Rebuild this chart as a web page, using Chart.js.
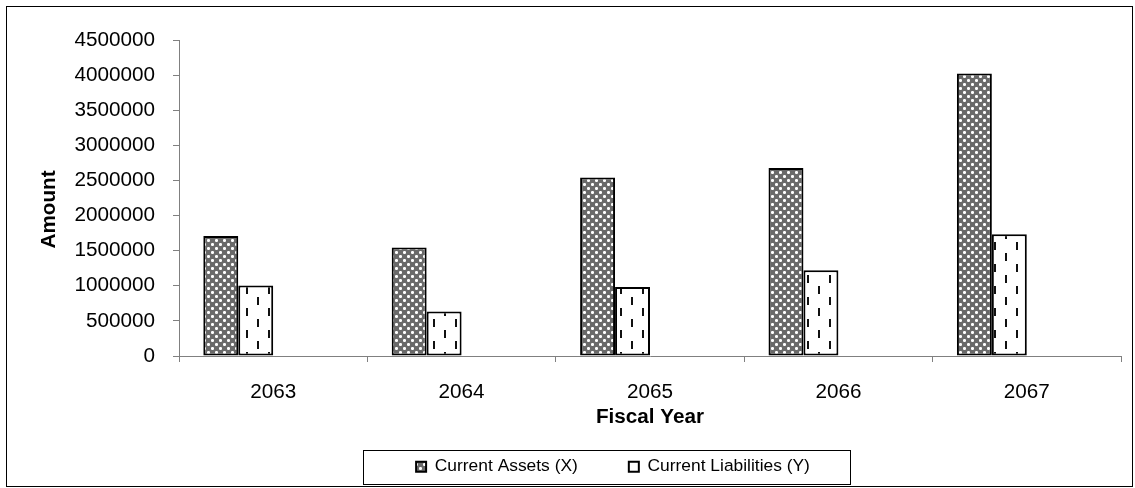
<!DOCTYPE html>
<html>
<head>
<meta charset="utf-8">
<title>Current Assets vs Current Liabilities</title>
<script src="https://cdn.jsdelivr.net/npm/chart.js@4.4.1/dist/chart.umd.min.js"></script>
<style>
  html, body { margin: 0; padding: 0; background: #fff; }
  #wrap { width: 1135px; height: 488px; }
</style>
</head>
<body>
<div id="wrap"><canvas id="chart"></canvas></div>
<script>
// values
const years = ['2063', '2064', '2065', '2066', '2067'];
const currentAssets = [1709000, 1544000, 2541000, 2678000, 4023000];
const currentLiabilities = [1003000, 632000, 983000, 1221000, 1734000];
// Excel drew this with two empty series, so the bars sit left of centre
const emptySeries = years.map(() => null);

const yMax = 4500000;
const yStep = 500000;

const FONT = "'Liberation Sans', Arial, sans-serif";
const AXIS_GREY = '#808080';

const canvas = document.getElementById('chart');

const makePattern = (w, h, draw) => {
  const tile = document.createElement('canvas');
  tile.width = w;
  tile.height = h;
  draw(tile.getContext('2d'));
  return canvas.getContext('2d').createPattern(tile, 'repeat');
};

// grey with white crosses
const crossPattern = makePattern(8, 8, ctx => {
  ctx.fillStyle = '#6a6a6a';
  ctx.fillRect(0, 0, 8, 8);
  [[0, 0], [4, 4]].forEach(([cx, cy]) => {
    ctx.fillStyle = '#fff';
    [[0, 0], [1, 0], [-1, 0], [0, 1], [0, -1]].forEach(([dx, dy]) => {
      ctx.fillRect((cx + dx + 8) % 8, (cy + dy + 8) % 8, 1, 1);
    });
    ctx.fillStyle = '#d0d0d0';
    [[1, 1], [-1, 1], [1, -1], [-1, -1]].forEach(([dx, dy]) => {
      ctx.fillRect((cx + dx + 8) % 8, (cy + dy + 8) % 8, 1, 1);
    });
  });
});

// white with staggered vertical dashes
const dashPattern = makePattern(22, 22, ctx => {
  ctx.fillStyle = '#fff';
  ctx.fillRect(0, 0, 22, 22);
  ctx.fillStyle = '#111';
  ctx.fillRect(4, 0, 2, 8);
  ctx.fillRect(15, 11, 2, 8);
});

const frame = {
  id: 'frame',
  afterLayout(chart) {
    // put the legend inside Excel's legend box
    const lg = chart.legend;
    lg.left = 361;
    lg.right = 865;
    lg.top = 407;
    lg.bottom = 488;
  },
  afterDraw(chart) {
    const ctx = chart.ctx;
    ctx.save();
    ctx.strokeStyle = '#000';
    ctx.lineWidth = 1;
    ctx.strokeRect(363.5, 450.5, 487, 34);
    ctx.strokeRect(6.5, 6.5, 1126, 480);
    ctx.restore();
  },
};

new Chart(canvas, {
  type: 'bar',
  data: {
    labels: years,
    datasets: [
      {
        label: 'Current Assets (X)',
        data: currentAssets,
        backgroundColor: crossPattern,
        borderColor: '#000',
        borderWidth: 2,
        borderSkipped: false,
      },
      {
        label: 'Current Liabilities (Y)',
        data: currentLiabilities,
        backgroundColor: dashPattern,
        borderColor: '#000',
        borderWidth: 2,
        borderSkipped: false,
      },
      { label: '', data: emptySeries },
      { label: '', data: emptySeries },
    ],
  },
  options: {
    responsive: true,
    maintainAspectRatio: false,
    animation: false,
    devicePixelRatio: 1,
    categoryPercentage: 0.742,
    barPercentage: 1,
    layout: { padding: { left: 8, top: 40, right: 14, bottom: 4 } },
    plugins: {
      tooltip: { enabled: false },
      legend: {
        position: 'bottom',
        maxHeight: 44,
        labels: {
          filter: item => item.datasetIndex < 2,
          boxWidth: 10,
          boxHeight: 10,
          padding: 51,
          color: '#000',
          font: { family: FONT, size: 17.4 },
        },
      },
    },
    scales: {
      x: {
        grid: { drawOnChartArea: false, tickLength: 6, color: AXIS_GREY },
        border: { color: AXIS_GREY },
        ticks: { color: '#000', padding: 17.6, font: { family: FONT, size: 20.7 } },
        title: {
          display: true,
          text: 'Fiscal Year',
          color: '#000',
          padding: { top: 0, bottom: 10 },
          font: { family: FONT, size: 20.7, weight: 'bold' },
        },
        afterFit: s => { s.height = 84; },
      },
      y: {
        min: 0,
        max: yMax,
        grid: { drawOnChartArea: false, tickLength: 6, color: AXIS_GREY },
        border: { color: AXIS_GREY },
        ticks: {
          stepSize: yStep,
          color: '#000',
          padding: 18,
          font: { family: FONT, size: 20.7 },
          callback: v => String(v),
        },
        title: {
          display: true,
          // trailing spaces nudge the centred title down like Excel's
          text: 'Amount    ',
          color: '#000',
          padding: { top: 29, bottom: 0 },
          font: { family: FONT, size: 20.7, weight: 'bold' },
        },
        afterFit: s => { s.width = 171; },
      },
    },
  },
  plugins: [frame],
});
</script>
</body>
</html>
